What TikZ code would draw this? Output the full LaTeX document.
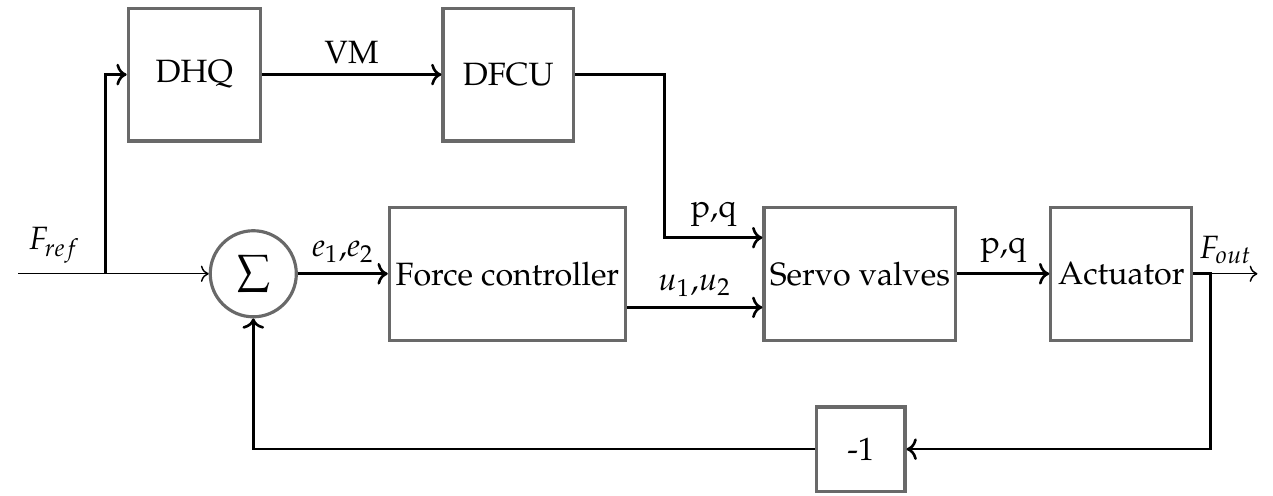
\documentclass[tikz,border=0pt]{standalone}
\usepackage[T1]{fontenc}
\usepackage{mathpazo}
\usetikzlibrary{arrows.meta,calc,positioning}
\definecolor{blockgray}{RGB}{105,105,105}
\tikzset{
  block/.style={draw=blockgray, line width=1.1pt, minimum height=1.62cm, inner xsep=1pt, align=center},
  sumblock/.style={circle, draw=blockgray, line width=1.1pt, minimum size=1.05cm, inner sep=0pt, font=\Large},
  sig/.style={line width=0.9pt},
  sigthin/.style={line width=0.5pt}
}

\begin{document}
\begin{tikzpicture}[font=\fontsize{11.2}{13.4}\selectfont]
\useasboundingbox (0,0) rectangle (15.53,6.04);

% Draw blocks
\node[block, minimum width=1.61cm] (dhq) at (2.37,5.13) {DHQ};
\node[block, minimum width=1.59cm] (dfcu) at (6.20,5.13) {DFCU};
\node[sumblock] (sum) at (3.09,2.70) {$\sum$};
\node[block, minimum width=2.88cm] (fc) at (6.19,2.70) {Force controller};
\node[block, minimum width=2.34cm] (servo) at (10.49,2.70) {Servo valves};
\node[block, minimum width=1.72cm] (act) at (13.68,2.70) {Actuator};
\node[block, minimum width=1.08cm, minimum height=1.03cm] (neg) at (10.50,0.56) {-1};

% Branch points and free ends
\coordinate (in) at (0.22,2.70);
\coordinate (split) at (1.29,2.70);
\coordinate (turn) at (8.11,3.14);
\coordinate (u) at ([yshift=-0.41cm]fc.east);
\coordinate (tap) at (14.77,2.70);
\coordinate (out) at (15.34,2.70);

% Draw forward path
\draw[sigthin,->] (in) -- node[above,pos=0.19] {$F_{ref}$} (sum);
\draw[sig,->] (split) |- (dhq);
\draw[sig,->] (dhq) -- node[above] {VM} (dfcu);
\draw[sig,->] (dfcu) -| (turn) -- node[above] {p,q} (servo.west |- turn);
\draw[sig,->] (sum) -- node[above] {$e_1$,$e_2$} (fc);
\draw[sig,->] (u) -- node[above] {$u_1$,$u_2$} (servo.west |- u);
\draw[sig,->] (servo) -- node[above] {p,q} (act);
\draw[sigthin,->] (act) -- node[above] {$F_{out}$} (out);

% Draw feedback loop
\draw[sig,->] (act) -- (tap) |- (neg);
\draw[sig,->] (neg) -| (sum);
\end{tikzpicture}
\end{document}
